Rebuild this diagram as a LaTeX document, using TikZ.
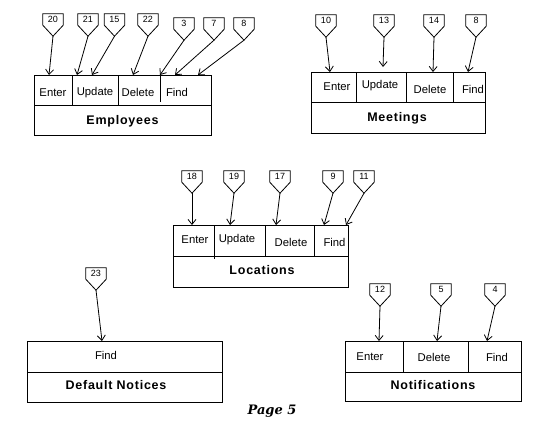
\documentclass[tikz,border=0pt]{standalone}
\usepackage{fontspec}
\setmainfont{Liberation Sans}
\newfontfamily\pagefont{DejaVu Serif}
\usetikzlibrary{arrows.meta}
\newcommand\tagmark[4]{%
  \node[tagnode] (#1) at (#2,#3+5.5) {#4};
  \draw[tagline] (#1.north west) -- (#1.north east) -- (#1.south east)
     -- ([yshift=-11pt]#1.south) -- (#1.south west) -- cycle;
  \coordinate (#1p) at ([yshift=-11pt]#1.south);
}
\begin{document}
\begin{tikzpicture}[x=1pt,y=-1pt,
  box/.style={draw,line width=1pt},
  sep/.style={line width=1pt},
  cell/.style={inner sep=0pt,font=\fontsize{11.3}{11.3}\selectfont},
  title/.style={inner sep=0pt,font=\fontsize{12.5}{12.5}\selectfont\bfseries\addfontfeatures{LetterSpace=6}},
  tagnode/.style={minimum width=20pt,minimum height=11pt,inner sep=0pt,font=\fontsize{9}{9}\selectfont},
  tagline/.style={line width=0.8pt},
  conn/.style={line width=0.8pt,-{Straight Barb[length=5pt,width=8pt]}}]
\useasboundingbox (0,0) rectangle (536,432);

% ---------- Employees ----------
\draw[box] (34,75) rectangle (211,135);
\draw[sep] (34,105) -- (211,105);
\draw[sep] (72,75) -- (72,105);
\draw[sep] (118,75) -- (118,105);
\draw[sep] (160.5,75) -- (160.5,102);
\node[cell] (empE) at (53,92.5) {Enter};
\node[cell] (empU) at (95,92.5) {Update};
\node[cell] (empD) at (138,92.5) {Delete};
\node[cell] (empF) at (177,92.5) {Find};
\node[title] (emp) at (122.5,121) {Employees};
\tagmark{t20}{53}{14}{20}
\tagmark{t21}{88}{14}{21}
\tagmark{t15}{114.5}{14}{15}
\tagmark{t22}{148}{14}{22}
\tagmark{t3}{184}{18}{3}
\tagmark{t7}{214}{18}{7}
\tagmark{t8a}{244}{18}{8}
\coordinate (e20) at (49,75);
\coordinate (e21) at (77,75);
\coordinate (e15) at (92,75);
\coordinate (e22) at (133,75);
\coordinate (e3) at (160,75);
\coordinate (e7) at (175,75);
\coordinate (e8) at (198,75);
\draw[conn] (t20p) -- (e20);
\draw[conn] (t21p) -- (e21);
\draw[conn] (t15p) -- (e15);
\draw[conn] (t22p) -- (e22);
\draw[conn] (t3p) -- (e3);
\draw[conn] (t7p) -- (e7);
\draw[conn] (t8ap) -- (e8);

% ---------- Meetings ----------
\draw[box] (311,72) rectangle (485,133);
\draw[sep] (311,102) -- (485,102);
\draw[sep] (356,72) -- (356,102);
\draw[sep] (406,72) -- (406,102);
\draw[sep] (453,72) -- (453,102);
\node[cell] (meeE) at (337,87) {Enter};
\node[cell] (meeU) at (380,86) {Update};
\node[cell] (meeD) at (430,89) {Delete};
\node[cell] (meeF) at (473,89) {Find};
\node[title] (mee) at (397,118) {Meetings};
\tagmark{t10}{326}{15}{10}
\tagmark{t13}{384}{15}{13}
\tagmark{t14}{434}{15}{14}
\tagmark{t8b}{476}{15}{8}
\coordinate (m10) at (330,72);
\coordinate (m13) at (383,67);
\coordinate (m14) at (433,72);
\coordinate (m8) at (468,72);
\draw[conn] (t10p) -- (m10);
\draw[conn] (t13p) -- (m13);
\draw[conn] (t14p) -- (m14);
\draw[conn] (t8bp) -- (m8);

% ---------- Locations ----------
\draw[box] (173,225) rectangle (348,287);
\draw[sep] (173,256) -- (348,256);
\draw[sep] (214,225) -- (214,259);
\draw[sep] (265,225) -- (265,256);
\draw[sep] (314,225) -- (314,256);
\node[cell] (locE) at (195,240) {Enter};
\node[cell] (locU) at (237,240) {Update};
\node[cell] (locD) at (291,242) {Delete};
\node[cell] (locF) at (334.5,242) {Find};
\node[title] (loc) at (262,270) {Locations};
\tagmark{t18}{192}{171}{18}
\tagmark{t19}{234}{171}{19}
\tagmark{t17}{280}{171}{17}
\tagmark{t9}{333}{171}{9}
\tagmark{t11}{364}{171}{11}
\coordinate (l18) at (192,225);
\coordinate (l19) at (230,225);
\coordinate (l17) at (276,225);
\coordinate (l9) at (324,225);
\coordinate (l11) at (346,225);
\draw[conn] (t18p) -- (l18);
\draw[conn] (t19p) -- (l19);
\draw[conn] (t17p) -- (l17);
\draw[conn] (t9p) -- (l9);
\draw[conn] (t11p) -- (l11);

% ---------- Default Notices ----------
\draw[box] (27,341) rectangle (222,402);
\draw[sep] (27,372) -- (222,372);
\node[cell] (defF) at (106,355) {Find};
\node[title] (def) at (116,385) {Default Notices};
\tagmark{t23}{96}{268}{23}
\coordinate (d23) at (102,341);
\draw[conn] (t23p) -- (d23);

% ---------- Notifications ----------
\draw[box] (345,341) rectangle (521,401);
\draw[sep] (345,372) -- (521,372);
\draw[sep] (403,341) -- (403,372);
\draw[sep] (468,341) -- (468,372);
\node[cell] (notE) at (370,357) {Enter};
\node[cell] (notD) at (434,357) {Delete};
\node[cell] (notF) at (497,357) {Find};
\node[title] (not) at (433,385) {Notifications};
\tagmark{t12}{380}{284}{12}
\tagmark{t5}{441}{284}{5}
\tagmark{t4}{495}{284}{4}
\coordinate (n12) at (379,341);
\coordinate (n5) at (437,341);
\coordinate (n4) at (487,341);
\draw[conn] (t12p) -- (n12);
\draw[conn] (t5p) -- (n5);
\draw[conn] (t4p) -- (n4);

% ---------- Page ----------
\node[inner sep=0pt,font=\fontsize{13}{13}\selectfont\pagefont\bfseries\itshape] (page) at (272,411) {Page 5};
\end{tikzpicture}
\end{document}
